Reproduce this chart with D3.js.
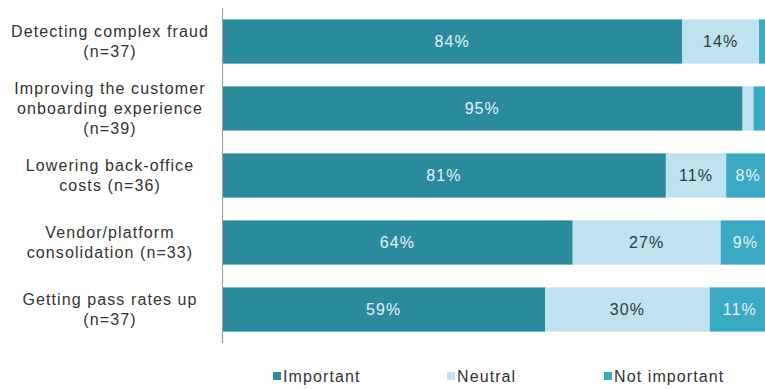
<!DOCTYPE html>
<html>
<head>
<meta charset="utf-8">
<script src="https://cdn.jsdelivr.net/npm/d3@7"></script>
<style>
  html, body { margin: 0; padding: 0; background: #fff; }
  svg { display: block; font-family: "Liberation Sans", Arial, sans-serif; }
</style>
</head>
<body>
<svg id="chart" width="765" height="389"></svg>
<script>
// Survey priorities: share of respondents rating each item
const categories = [
  ["Detecting complex fraud", "(n=37)"],
  ["Improving the customer", "onboarding experience", "(n=39)"],
  ["Lowering back-office", "costs (n=36)"],
  ["Vendor/platform", "consolidation (n=33)"],
  ["Getting pass rates up", "(n=37)"]
];
const seriesNames = ["Important", "Neutral", "Not important"];
const important    = [84, 95, 81, 64, 59];
const neutral      = [14, 2, 11, 27, 30];
const notImportant = [2, 3, 8, 9, 11];
// labels printed inside the segments (null = segment too narrow to label)
const importantLabels    = ["84%", "95%", "81%", "64%", "59%"];
const neutralLabels      = ["14%", null, "11%", "27%", "30%"];
const notImportantLabels = [null, null, "8%", "9%", "11%"];

const colors = ["#2a8a9e", "#bfe2ee", "#3aa9c4"];
const labelColors = ["#e4f2f6", "#2e3a40", "#e4f2f6"];

const svg = d3.select("#chart");
const left = 222;
const fontSize = 16;
const spacing = "1.1px";

const rows = categories.map((c, i) => ({
  key: i,
  Important: important[i],
  Neutral: neutral[i],
  "Not important": notImportant[i],
  labels: [importantLabels[i], neutralLabels[i], notImportantLabels[i]]
}));

const x = d3.scaleLinear().domain([0, 100]).range([left, left + 548]);
const y = d3.scaleBand().domain(d3.range(categories.length)).range([8, 343]).paddingInner(0.34).paddingOuter(0.17);

const stack = d3.stack().keys(seriesNames)(rows);

const layers = svg.append("g").selectAll("g")
  .data(stack).join("g")
  .attr("fill", (d, i) => colors[i]);

layers.selectAll("rect")
  .data(d => d).join("rect")
  .attr("x", d => x(d[0]))
  .attr("y", (d, i) => y(i))
  .attr("width", d => x(d[1]) - x(d[0]))
  .attr("height", y.bandwidth());

// value labels
stack.forEach((layer, si) => {
  svg.append("g").selectAll("text")
    .data(layer.filter((d, i) => rows[i].labels[si] !== null))
    .join("text")
    .attr("x", d => (x(d[0]) + x(d[1])) / 2)
    .attr("y", d => y(d.data.key) + y.bandwidth() / 2)
    .attr("dy", "0.36em")
    .attr("text-anchor", "middle")
    .attr("font-size", fontSize)
    .attr("letter-spacing", spacing)
    .attr("fill", labelColors[si])
    .text(d => d.data.labels[si]);
});

// category axis line
svg.append("line")
  .attr("x1", left + 0.5).attr("x2", left + 0.5)
  .attr("y1", 8).attr("y2", 343)
  .attr("stroke", "#a0a0a0").attr("stroke-width", 1.2);

// category labels, centred multi-line text
const lineH = 20;
const catG = svg.append("g");
categories.forEach((lines, i) => {
  const cy = y(i) + y.bandwidth() / 2;
  const t = catG.append("text")
    .attr("text-anchor", "middle")
    .attr("font-size", fontSize)
    .attr("letter-spacing", spacing)
    .attr("fill", "#333");
  lines.forEach((ln, j) => {
    t.append("tspan")
      .attr("x", 110)
      .attr("y", cy + (j - (lines.length - 1) / 2) * lineH)
      .attr("dy", "0.36em")
      .text(ln);
  });
});

// legend
const legendX = [273, 447, 604];
const legend = svg.append("g");
seriesNames.forEach((name, i) => {
  legend.append("rect")
    .attr("x", legendX[i]).attr("y", 372)
    .attr("width", 8).attr("height", 8)
    .attr("fill", colors[i]);
  legend.append("text")
    .attr("x", legendX[i] + 10).attr("y", 376)
    .attr("dy", "0.36em")
    .attr("font-size", fontSize)
    .attr("letter-spacing", spacing)
    .attr("fill", "#333")
    .text(name);
});
</script>
</body>
</html>
